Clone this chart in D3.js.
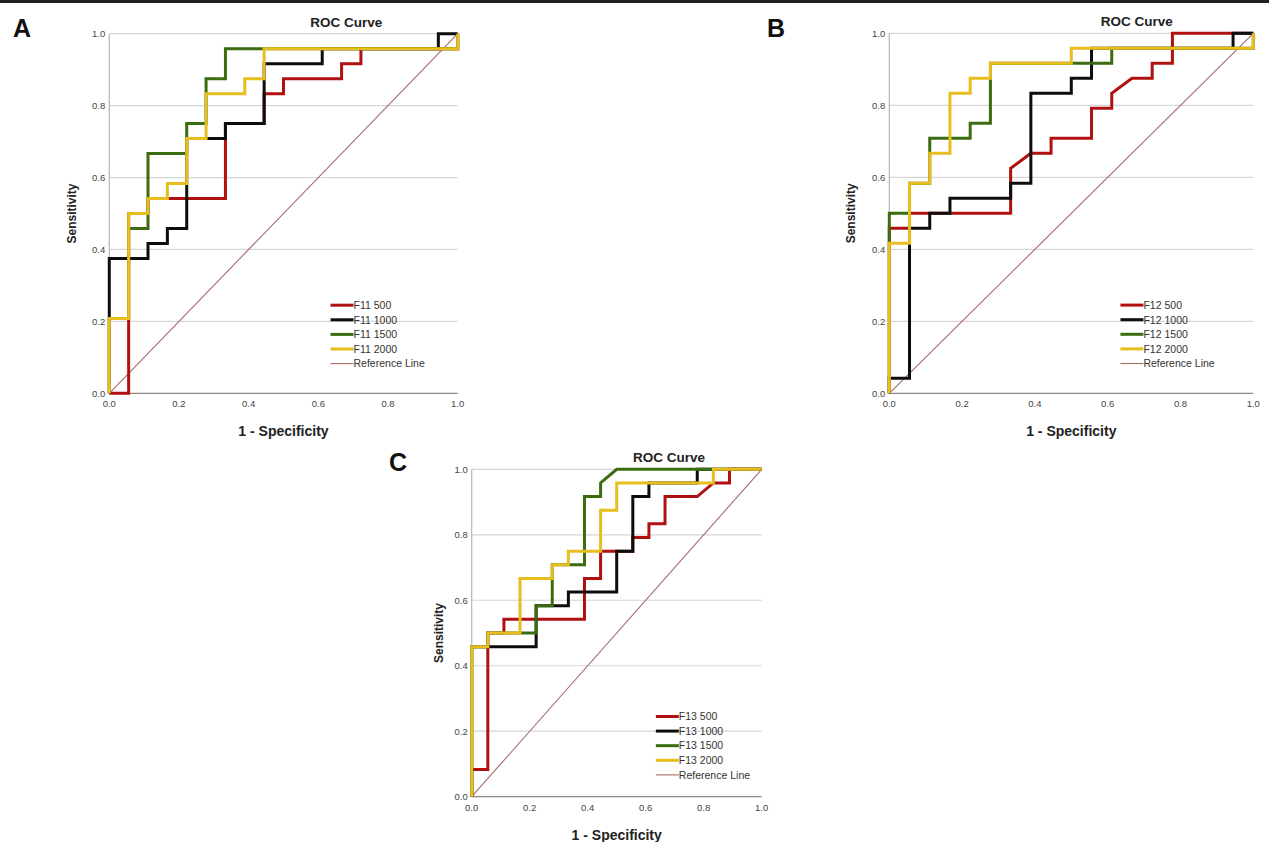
<!DOCTYPE html>
<html>
<head>
<meta charset="utf-8">
<script src="https://cdn.jsdelivr.net/npm/d3@7"></script>
<style>
  body { margin: 0; background: #fff; }
  svg { display: block; font-family: "Liberation Sans", Arial, sans-serif; }
</style>
</head>
<body>
<div id="chart"></div>
<script>
// ROC points, as [false positives, true positives] counts
// (18 negatives, 24 positives in every test)
var NEG = 18, POS = 24;

var f11_500  = [[0,0],[1,0],[1,12],[2,12],[2,13],[6,13],[6,18],[8,18],[8,20],[9,20],[9,21],[12,21],[12,22],[13,22],[13,23],[18,23],[18,24]];
var f11_1000 = [[0,0],[0,9],[2,9],[2,10],[3,10],[3,11],[4,11],[4,17],[6,17],[6,18],[8,18],[8,22],[11,22],[11,23],[17,23],[17,24],[18,24]];
var f11_1500 = [[0,0],[0,5],[1,5],[1,11],[2,11],[2,16],[4,16],[4,18],[5,18],[5,21],[6,21],[6,23],[18,23],[18,24]];
var f11_2000 = [[0,0],[0,5],[1,5],[1,12],[2,12],[2,13],[3,13],[3,14],[4,14],[4,17],[5,17],[5,20],[7,20],[7,21],[8,21],[8,23],[18,23],[18,24]];

var f12_500  = [[0,0],[0,11],[1,11],[1,12],[6,12],[6,15],[7,16],[8,16],[8,17],[10,17],[10,19],[11,19],[11,20],[12,21],[13,21],[13,22],[14,22],[14,24],[18,24]];
var f12_1000 = [[0,0],[0,1],[1,1],[1,11],[2,11],[2,12],[3,12],[3,13],[6,13],[6,14],[7,14],[7,20],[9,20],[9,21],[10,21],[10,23],[17,23],[17,24],[18,24]];
var f12_1500 = [[0,0],[0,12],[1,12],[1,14],[2,14],[2,17],[4,17],[4,18],[5,18],[5,22],[11,22],[11,23],[18,23],[18,24]];
var f12_2000 = [[0,0],[0,10],[1,10],[1,14],[2,14],[2,16],[3,16],[3,20],[4,20],[4,21],[5,21],[5,22],[9,22],[9,23],[18,23],[18,24]];

var f13_500  = [[0,0],[0,2],[1,2],[1,12],[2,12],[2,13],[7,13],[7,16],[8,16],[8,18],[10,18],[10,19],[11,19],[11,20],[12,20],[12,22],[14,22],[15,23],[16,23],[16,24],[18,24]];
var f13_1000 = [[0,0],[0,11],[4,11],[4,14],[6,14],[6,15],[9,15],[9,18],[10,18],[10,22],[11,22],[11,23],[14,23],[14,24],[18,24]];
var f13_1500 = [[0,0],[0,11],[1,11],[1,12],[4,12],[4,14],[5,14],[5,17],[7,17],[7,22],[8,22],[8,23],[9,24],[18,24]];
var f13_2000 = [[0,0],[0,11],[1,11],[1,12],[3,12],[3,16],[5,16],[5,17],[6,17],[6,18],[8,18],[8,21],[9,21],[9,23],[15,23],[15,24],[18,24]];

var labelsA = ["F11 500", "F11 1000", "F11 1500", "F11 2000"];
var labelsB = ["F12 500", "F12 1000", "F12 1500", "F12 2000"];
var labelsC = ["F13 500", "F13 1000", "F13 1500", "F13 2000"];
var refLabel = "Reference Line";
var ticks = [0, 0.2, 0.4, 0.6, 0.8, 1.0];
var colors = ["#b0100f", "#0d0d0d", "#3b6c10", "#e8bd1e"];
var refColor = "#a66a68";

var W = 1269, H = 842;
var svg = d3.select("#chart").append("svg")
    .attr("width", W)
    .attr("height", H);

// thin dark strip along the top edge
svg.append("rect").attr("x", 0).attr("y", 0).attr("width", W).attr("height", 3).attr("fill", "#231f20");

var panels = [
  {letter: "A", lx: 22, ly: 37, left: 109.3, right: 457.7, top: 33.7, bottom: 393.3, ylab: 37,
   series: [f11_500, f11_1000, f11_1500, f11_2000], labels: labelsA},
  {letter: "B", lx: 776, ly: 37, left: 889.3, right: 1253.3, top: 33.3, bottom: 393.3, ylab: 38,
   series: [f12_500, f12_1000, f12_1500, f12_2000], labels: labelsB},
  {letter: "C", lx: 398, ly: 471, left: 471.7, right: 761.7, top: 469.3, bottom: 796.7, ylab: 33,
   series: [f13_500, f13_1000, f13_1500, f13_2000], labels: labelsC}
];

panels.forEach(drawPanel);

function drawPanel(p) {
  var w = p.right - p.left, h = p.bottom - p.top;
  var x = d3.scaleLinear().domain([0, 1]).range([p.left, p.right]);
  var y = d3.scaleLinear().domain([0, 1]).range([p.bottom, p.top]);
  var g = svg.append("g");

  // panel letter
  g.append("text")
    .attr("x", p.lx).attr("y", p.ly)
    .attr("text-anchor", "middle")
    .style("font-size", "25px").style("font-weight", "bold")
    .attr("fill", "#111")
    .text(p.letter);

  // title
  g.append("text")
    .attr("x", p.left + 0.68 * w).attr("y", p.top - 7)
    .attr("text-anchor", "middle")
    .style("font-size", "13.5px").style("font-weight", "bold")
    .attr("fill", "#222")
    .text("ROC Curve");

  // grid lines
  g.selectAll(".grid").data(ticks.filter(function(t) { return t > 0; }))
    .enter().append("line")
    .attr("x1", p.left).attr("x2", p.right)
    .attr("y1", function(d) { return y(d); })
    .attr("y2", function(d) { return y(d); })
    .attr("stroke", "#d6d6d6").attr("stroke-width", 1.2);

  // axes
  g.append("line").attr("x1", p.left).attr("x2", p.left).attr("y1", p.top).attr("y2", p.bottom)
    .attr("stroke", "#b5b5b5").attr("stroke-width", 1.2);
  g.append("line").attr("x1", p.left).attr("x2", p.right).attr("y1", p.bottom).attr("y2", p.bottom)
    .attr("stroke", "#8a8a8a").attr("stroke-width", 1.2);

  // tick labels
  g.selectAll(".yt").data(ticks).enter().append("text")
    .attr("x", p.left - 4)
    .attr("y", function(d) { return y(d) + 3.5; })
    .attr("text-anchor", "end")
    .style("font-size", "9.5px").attr("fill", "#444")
    .text(function(d) { return d3.format(".1f")(d); });
  g.selectAll(".xt").data(ticks).enter().append("text")
    .attr("x", function(d) { return x(d); })
    .attr("y", p.bottom + 14)
    .attr("text-anchor", "middle")
    .style("font-size", "9.5px").attr("fill", "#444")
    .text(function(d) { return d3.format(".1f")(d); });

  // axis titles
  g.append("text")
    .attr("x", (p.left + p.right) / 2).attr("y", p.bottom + 43)
    .attr("text-anchor", "middle")
    .style("font-size", "14px").style("font-weight", "bold").attr("fill", "#222")
    .text("1 - Specificity");
  g.append("text")
    .attr("transform", "translate(" + (p.left - p.ylab + 4) + "," + ((p.top + p.bottom) / 2) + ") rotate(-90)")
    .attr("text-anchor", "middle")
    .style("font-size", "12px").style("font-weight", "bold").attr("fill", "#222")
    .text("Sensitivity");

  // reference diagonal
  g.append("line")
    .attr("x1", x(0)).attr("y1", y(0)).attr("x2", x(1)).attr("y2", y(1))
    .attr("stroke", refColor).attr("stroke-width", 1.1);

  var line = d3.line()
    .x(function(d) { return x(d[0] / NEG); })
    .y(function(d) { return y(d[1] / POS); });

  p.series.forEach(function(s, i) {
    g.append("path")
      .attr("d", line(s))
      .attr("fill", "none")
      .attr("stroke", colors[i])
      .attr("stroke-width", 3)
      .attr("stroke-linejoin", "miter");
  });

  // legend
  var lx = p.left + 0.635 * w, ly0 = y(0.245), dy = 14.6;
  var items = p.labels.map(function(l, i) { return {label: l, color: colors[i], width: 3}; });
  items.push({label: refLabel, color: refColor, width: 1.1});
  items.forEach(function(it, i) {
    var yy = ly0 + i * dy;
    g.append("line")
      .attr("x1", lx).attr("x2", lx + 23)
      .attr("y1", yy).attr("y2", yy)
      .attr("stroke", it.color).attr("stroke-width", it.width);
    g.append("text")
      .attr("x", lx + 23).attr("y", yy + 3.8)
      .style("font-size", "10.5px").attr("fill", "#333")
      .text(it.label);
  });
}
</script>
</body>
</html>
